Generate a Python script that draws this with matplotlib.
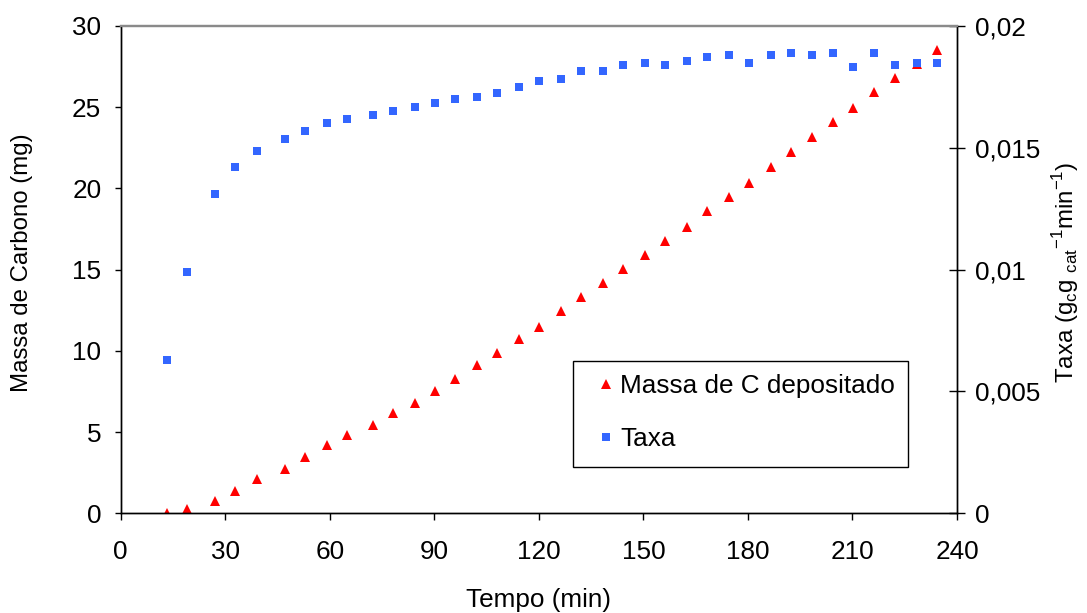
import matplotlib
matplotlib.use("Agg")
import matplotlib.pyplot as plt
from matplotlib.lines import Line2D
from matplotlib.patches import Rectangle

plt.rcParams['font.family'] = ['Liberation Sans', 'DejaVu Sans']
plt.rcParams['mathtext.fontset'] = 'custom'
plt.rcParams['mathtext.rm'] = 'Liberation Sans'

# Time of each measurement (min)
tempo = [13.3, 19.0, 27.1, 32.8, 39.1, 47.1, 52.9, 59.2, 64.9, 72.4, 78.1, 84.4,
         90.1, 95.9, 102.2, 107.9, 114.3, 120.0, 126.3, 132.1, 138.4, 144.1,
         150.4, 156.2, 162.5, 168.2, 174.5, 180.3, 186.6, 192.4, 198.4, 204.4,
         210.2, 216.2, 222.2, 228.5, 234.3]

# Deposited carbon mass (mg)
massa = [0.04, 0.25, 0.76, 1.37, 2.09, 2.71, 3.45, 4.21, 4.82, 5.44, 6.18, 6.77,
         7.53, 8.27, 9.13, 9.87, 10.73, 11.49, 12.48, 13.34, 14.20, 15.04,
         15.90, 16.79, 17.65, 18.61, 19.50, 20.36, 21.34, 22.23, 23.19, 24.09,
         24.94, 25.92, 26.79, 27.65, 28.55]

# Deposition rate (g_c g_cat^-1 min^-1)
taxa = [0.00630, 0.00992, 0.01312, 0.01421, 0.01486, 0.01535, 0.01568, 0.01601,
        0.01617, 0.01634, 0.01650, 0.01666, 0.01683, 0.01699, 0.01707, 0.01724,
        0.01748, 0.01773, 0.01781, 0.01814, 0.01814, 0.01839, 0.01847, 0.01839,
        0.01855, 0.01872, 0.01880, 0.01847, 0.01880, 0.01888, 0.01880, 0.01888,
        0.01831, 0.01888, 0.01839, 0.01847, 0.01847]

x_ticks = [0, 30, 60, 90, 120, 150, 180, 210, 240]
y_ticks = [0, 5, 10, 15, 20, 25, 30]
y2_ticks = [0, 0.005, 0.01, 0.015, 0.02]
y2_ticklabels = ['0', '0,005', '0,01', '0,015', '0,02']

RED = '#FF0000'
BLUE = '#3366FF'
FS = 18.8
FS_YLAB = 17.3

W, H = 1087, 613
fig = plt.figure(figsize=(W / 100, H / 100), dpi=100)
L, R, T, B = 120.7, 957.0, 26.0, 513.3
ax = fig.add_axes([L / W, 1 - B / H, (R - L) / W, (B - T) / H])
ax2 = ax.twinx()

ax.plot(tempo, massa, linestyle='none', marker='^', markersize=7.2,
        color=RED, markeredgewidth=0, label='Massa de C depositado')
ax2.plot(tempo, taxa, linestyle='none', marker='s', markersize=5.8,
         color=BLUE, markeredgewidth=0, label='Taxa')

ax.set_xlim(0, 240)
ax.set_ylim(0, 30)
ax2.set_ylim(0, 0.02)
ax.set_xticks(x_ticks)
ax.set_yticks(y_ticks)
ax2.set_yticks(y2_ticks)
ax2.set_yticklabels(y2_ticklabels)

ax.tick_params(axis='x', direction='out', length=5, width=1, pad=14, labelsize=FS)
ax.tick_params(axis='y', direction='out', length=4.5, width=1, pad=9.5, labelsize=FS)
ax2.tick_params(axis='y', direction='inout', length=11.5, width=1, pad=7, labelsize=FS)

for a in (ax, ax2):
    for side in ('left', 'bottom', 'right'):
        a.spines[side].set_color('black')
        a.spines[side].set_linewidth(1.0)
    a.spines['top'].set_color('#8a8a8a')
    a.spines['top'].set_linewidth(1.6)

fig.text((L + R) / 2 / W, 1 - 606.5 / H, 'Tempo (min)', ha='center',
         va='baseline', fontsize=FS)
fig.text(22 / W, 1 - 262.5 / H, 'Massa de Carbono (mg)', rotation=90,
         ha='center', va='center', fontsize=FS_YLAB)
fig.text(1066 / W, 1 - 272 / H,
         r'Taxa (g$_\mathregular{c}$g $_\mathregular{cat}$$^\mathregular{-1}$min$^\mathregular{-1}$)',
         rotation=90, ha='center', va='center', fontsize=FS_YLAB)

# Legend box and entries
bx0, bx1, by0, by1 = 573.3, 907.7, 361.0, 467.3
ax2.add_patch(Rectangle(((bx0 - L) / (R - L), (B - by1) / (B - T)),
                        (bx1 - bx0) / (R - L), (by1 - by0) / (B - T),
                        transform=ax2.transAxes, facecolor='white',
                        edgecolor='black', linewidth=1.0, zorder=5))
handles = [Line2D([], [], linestyle='none', marker='^', markersize=7.2,
                  color=RED, markeredgewidth=0),
           Line2D([], [], linestyle='none', marker='s', markersize=5.8,
                  color=BLUE, markeredgewidth=0)]
leg = ax2.legend(handles, ['Massa de C depositado', 'Taxa'],
                 loc='upper left',
                 bbox_to_anchor=((595.6 - L) / (R - L), (B - 374) / (B - T)),
                 frameon=False, borderpad=0, borderaxespad=0,
                 handlelength=0.8, handletextpad=0.13, labelspacing=1.12,
                 fontsize=FS, numpoints=1)
leg.set_zorder(6)

fig.savefig('out.png', dpi=100)
